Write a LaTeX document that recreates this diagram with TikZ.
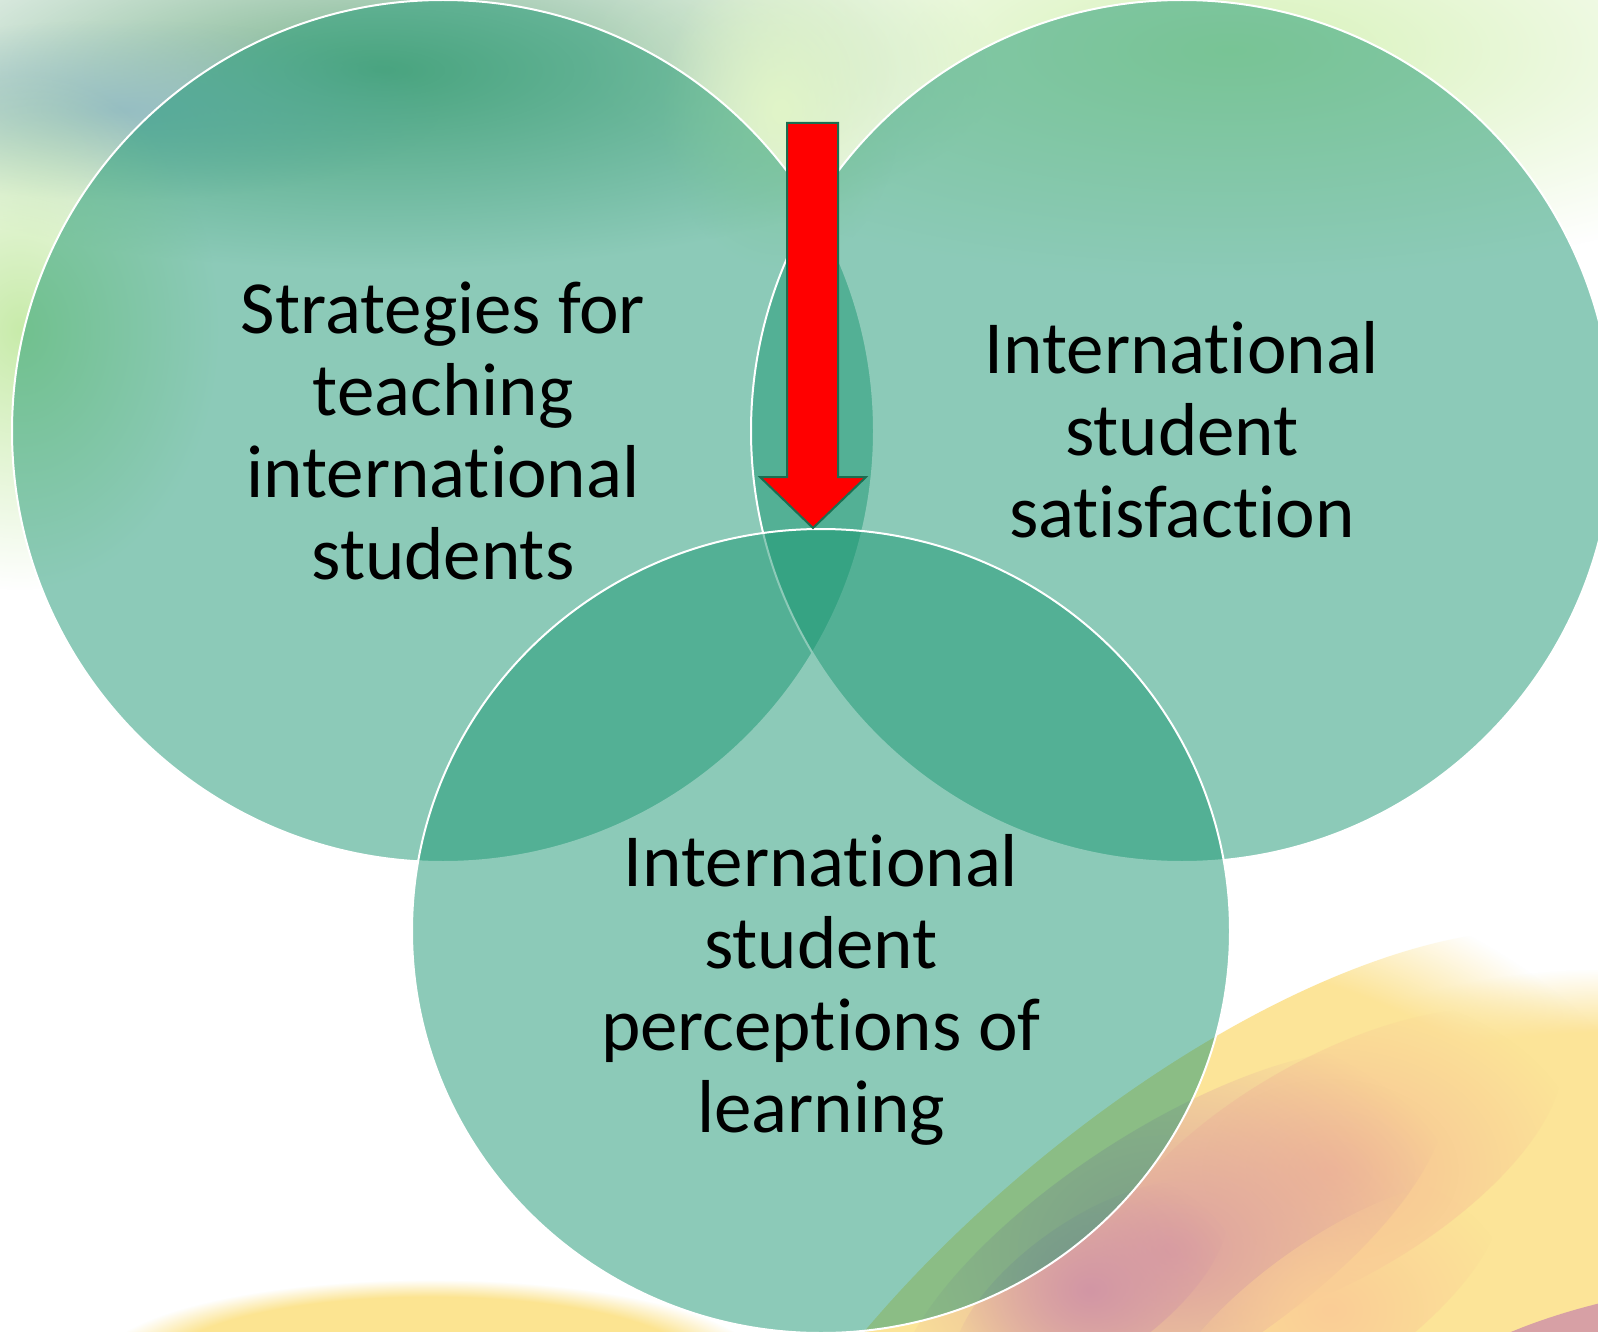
\documentclass[tikz,border=0pt]{standalone}
\usepackage{fontspec}
\setmainfont{Carlito}[Ligatures=CommonOff]
\usetikzlibrary{shapes.geometric,fadings}
\tikzfading[name=softblob, inner color=transparent!0, outer color=transparent!100]
\pgfdeclareradialshading{plateaushade}{\pgfpoint{0bp}{0bp}}{color(0bp)=(white); color(20bp)=(white); color(25bp)=(black); color(50bp)=(black)}
\pgfdeclarefading{plateau}{\pgfuseshading{plateaushade}}
\definecolor{teal}{RGB}{27,151,115}
\definecolor{arrowline}{RGB}{26,110,80}
\tikzset{
  venn/.style={ellipse, inner sep=0pt, outer sep=0pt, fill=teal, fill opacity=0.5,
    draw=white, draw opacity=1, line width=2pt},
  label/.style={align=center, text=black, font=\fontsize{75}{82}\selectfont, inner sep=0pt},
  blob/.style={path fading=softblob},
  pblob/.style={path fading=plateau},
}
\begin{document}
\begin{tikzpicture}[x=1pt,y=-1pt]
\useasboundingbox (0,0) rectangle (1598,1332);
\clip (0,0) rectangle (1598,1332);
\fill[white] (0,0) rectangle (1598,1332);
% background blobs (top)
\fill[blob, color={rgb,255:red,120;green,178;blue,140}] (380,70) ellipse[x radius=620, y radius=200];
\fill[blob, color={rgb,255:red,150;green,190;blue,195}] (120,110) ellipse[x radius=320, y radius=90];
\fill[blob, color={rgb,255:red,200;green,235;blue,170}] (20,330) ellipse[x radius=200, y radius=260];
\fill[blob, color={rgb,255:red,215;green,242;blue,185}] (1230,50) ellipse[x radius=650, y radius=230];
\fill[blob, color={rgb,255:red,225;green,245;blue,200}] (780,110) ellipse[x radius=120, y radius=160];
% background blobs (bottom right)
\fill[pblob, color={rgb,255:red,252;green,228;blue,152}] (1600,1290) ellipse[x radius=470, y radius=320];
\fill[pblob, color={rgb,255:red,252;green,228;blue,152}, rotate around={40:(1190,1360)}] (1190,1360) ellipse[x radius=600, y radius=250];
\fill[blob, color={rgb,255:red,246;green,192;blue,148}, rotate around={30:(1330,1170)}] (1330,1170) ellipse[x radius=260, y radius=110];
\fill[blob, color={rgb,255:red,220;green,160;blue,160}, rotate around={33:(1170,1250)}] (1170,1250) ellipse[x radius=320, y radius=120];
\fill[blob, color={rgb,255:red,210;green,150;blue,165}, rotate around={35:(1090,1290)}] (1090,1290) ellipse[x radius=160, y radius=70];
\fill[blob, color={rgb,255:red,250;green,205;blue,150}, rotate around={35:(1330,1310)}] (1330,1310) ellipse[x radius=200, y radius=70];
\fill[pblob, color={rgb,255:red,215;green,160;blue,165}, rotate around={15:(1600,1360)}] (1600,1360) ellipse[x radius=190, y radius=55];
% bottom left
\fill[pblob, color={rgb,255:red,252;green,228;blue,145}] (430,1365) ellipse[x radius=330, y radius=85];
% circles
\node[venn, minimum width=862pt, minimum height=862pt] (L) at (443,431) {};
\node[venn, minimum width=862pt, minimum height=862pt] (R) at (1182,431) {};
\node[venn, minimum width=818pt, minimum height=804pt] (B) at (821,931) {};
% arrow
\coordinate (a1) at (787,123);
\coordinate (a2) at (838,123);
\coordinate (a3) at (838,477);
\coordinate (a4) at (866,477);
\coordinate (tip) at (813,528);
\coordinate (a6) at (760,477);
\coordinate (a7) at (787,477);
\fill[red, draw=arrowline, line width=2pt, line join=miter] (a1) -- (a2) -- (a3) -- (a4) -- (tip) -- (a6) -- (a7) -- cycle;
% labels
\node[label] (tL) at (443,431) {Strategies for\\teaching\\international\\students};
\node[label] (tR) at (1182,430) {International\\student\\satisfaction};
\node[label] (tB) at (821,990) {International\\student\\perceptions of\\learning};
\end{tikzpicture}
\end{document}
